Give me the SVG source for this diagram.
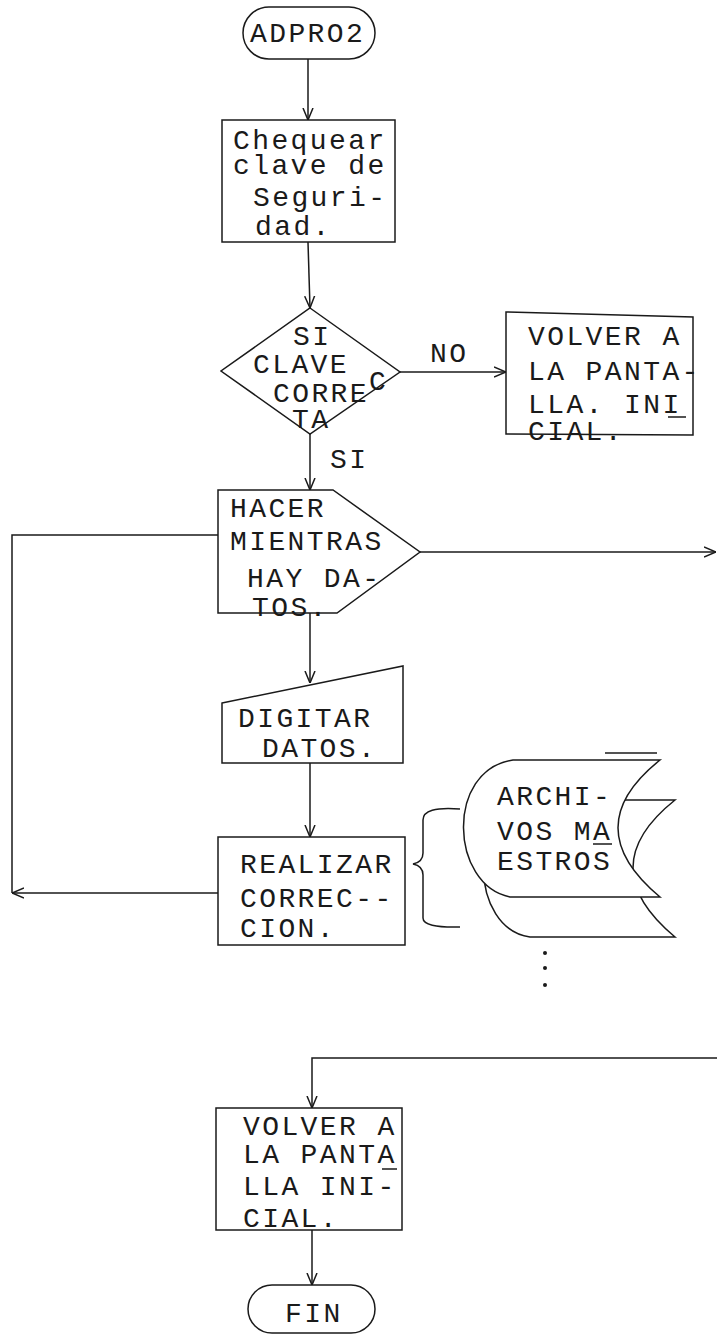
<svg xmlns="http://www.w3.org/2000/svg" width="717" height="1337" viewBox="0 0 717 1337">
<defs>
<style>
.shape{fill:#fff;stroke:#1a1a1a;stroke-width:1.5}
.line{fill:none;stroke:#1a1a1a;stroke-width:1.5}
.t{font-family:"Liberation Mono","DejaVu Sans Mono",monospace;font-size:28px;letter-spacing:2.4px;fill:#1a1a1a}
</style>
<marker id="arr" viewBox="0 0 12 12" refX="12" refY="6" markerWidth="12" markerHeight="12" markerUnits="userSpaceOnUse" orient="auto">
<path d="M0,1 L12,6 L0,11" fill="none" stroke="#1a1a1a" stroke-width="1.5"/>
</marker>
</defs>
<rect width="717" height="1337" fill="#fff"/>

<g id="connectors">
<path class="line" d="M308,59 V120" marker-end="url(#arr)"/>
<path class="line" d="M308,242 L310,308" marker-end="url(#arr)"/>
<path class="line" d="M400,372 H506" marker-end="url(#arr)"/>
<path class="line" d="M310,434 V490" marker-end="url(#arr)"/>
<path class="line" d="M420,552 H716" marker-end="url(#arr)"/>
<path class="line" d="M310,613 V683" marker-end="url(#arr)"/>
<path class="line" d="M310,763 V837" marker-end="url(#arr)"/>
<path class="line" d="M218,893 H12" marker-end="url(#arr)"/>
<path class="line" d="M12,893 V535 H218"/>
<path class="line" d="M717,1058 H312 V1108" marker-end="url(#arr)"/>
<path class="line" d="M312,1230 V1285" marker-end="url(#arr)"/>
<path class="line" d="M460,809 Q423,806 423,820 V853 Q423,862 413,864 Q423,866 423,875 V918 Q423,928 460,927"/>
<text class="t" x="430" y="362">NO</text>
<text class="t" x="330" y="468">SI</text>
</g>

<g id="adpro2">
<rect class="shape" x="243" y="7" width="132" height="52" rx="26"/>
<text class="t" x="250" y="42">ADPRO2</text>
</g>

<g id="chequear">
<rect class="shape" x="222" y="120" width="173" height="122"/>
<text class="t" x="233" y="149">Chequear</text>
<text class="t" x="233" y="174">clave de</text>
<text class="t" x="253" y="206">Seguri-</text>
<text class="t" x="255" y="235">dad.</text>
</g>

<g id="decision">
<path class="shape" d="M310,308 L400,372 L310,434 L221,371 Z"/>
<text class="t" x="293" y="345">SI</text>
<text class="t" x="253" y="373">CLAVE</text>
<text class="t" x="273" y="402">CORRE</text>
<text class="t" x="369" y="390">C</text>
<text class="t" x="292" y="428">TA</text>
</g>

<g id="volver1">
<path class="shape" d="M506,312 L693,317 L693,435 L506,434 Z"/>
<text class="t" x="528" y="345">VOLVER A</text>
<text class="t" x="528" y="380">LA PANTA-</text>
<text class="t" x="528" y="413">LLA. INI</text>
<path class="line" d="M668,417 H686"/>
<text class="t" x="528" y="440">CIAL.</text>
</g>

<g id="hacer">
<path class="shape" d="M218,490 H333 L420,552 L337,613 H218 Z"/>
<text class="t" x="230" y="517">HACER</text>
<text class="t" x="230" y="550">MIENTRAS</text>
<text class="t" x="247" y="587">HAY DA-</text>
<text class="t" x="252" y="616">TOS.</text>
</g>

<g id="digitar">
<path class="shape" d="M222,703 L403,666 V763 H222 Z"/>
<text class="t" x="238" y="727">DIGITAR</text>
<text class="t" x="262" y="757">DATOS.</text>
</g>

<g id="realizar">
<rect class="shape" x="218" y="837" width="187" height="108"/>
<text class="t" x="240" y="873">REALIZAR</text>
<text class="t" x="240" y="907">CORREC--</text>
<text class="t" x="240" y="937">CION.</text>
</g>

<g id="archivos">
<path class="shape" d="M533,800 H675 Q591,867 675,937 H530 C470,929 465,810 533,800 Z"/>
<path class="shape" d="M513,760 H660 Q576,827 660,897 H510 C450,885 445,770 513,760 Z"/>
<path class="line" d="M605,753 H657"/>
<text class="t" x="497" y="805">ARCHI-</text>
<text class="t" x="497" y="840">VOS MA</text>
<text class="t" x="497" y="870">ESTROS</text>
<path class="line" d="M593,844 H612"/>
</g>

<g id="ellipsis">
<circle cx="545" cy="953" r="2" fill="#1a1a1a"/>
<circle cx="545" cy="968" r="2" fill="#1a1a1a"/>
<circle cx="545" cy="985" r="2" fill="#1a1a1a"/>
</g>

<g id="volver2">
<rect class="shape" x="216" y="1108" width="186" height="122"/>
<text class="t" x="243" y="1135">VOLVER A</text>
<text class="t" x="243" y="1163">LA PANTA</text>
<path class="line" d="M382,1169 H397"/>
<text class="t" x="243" y="1195">LLA INI-</text>
<text class="t" x="243" y="1227">CIAL.</text>
</g>

<g id="fin">
<rect class="shape" x="248" y="1285" width="127" height="48" rx="24"/>
<text class="t" x="285" y="1322">FIN</text>
</g>
</svg>
